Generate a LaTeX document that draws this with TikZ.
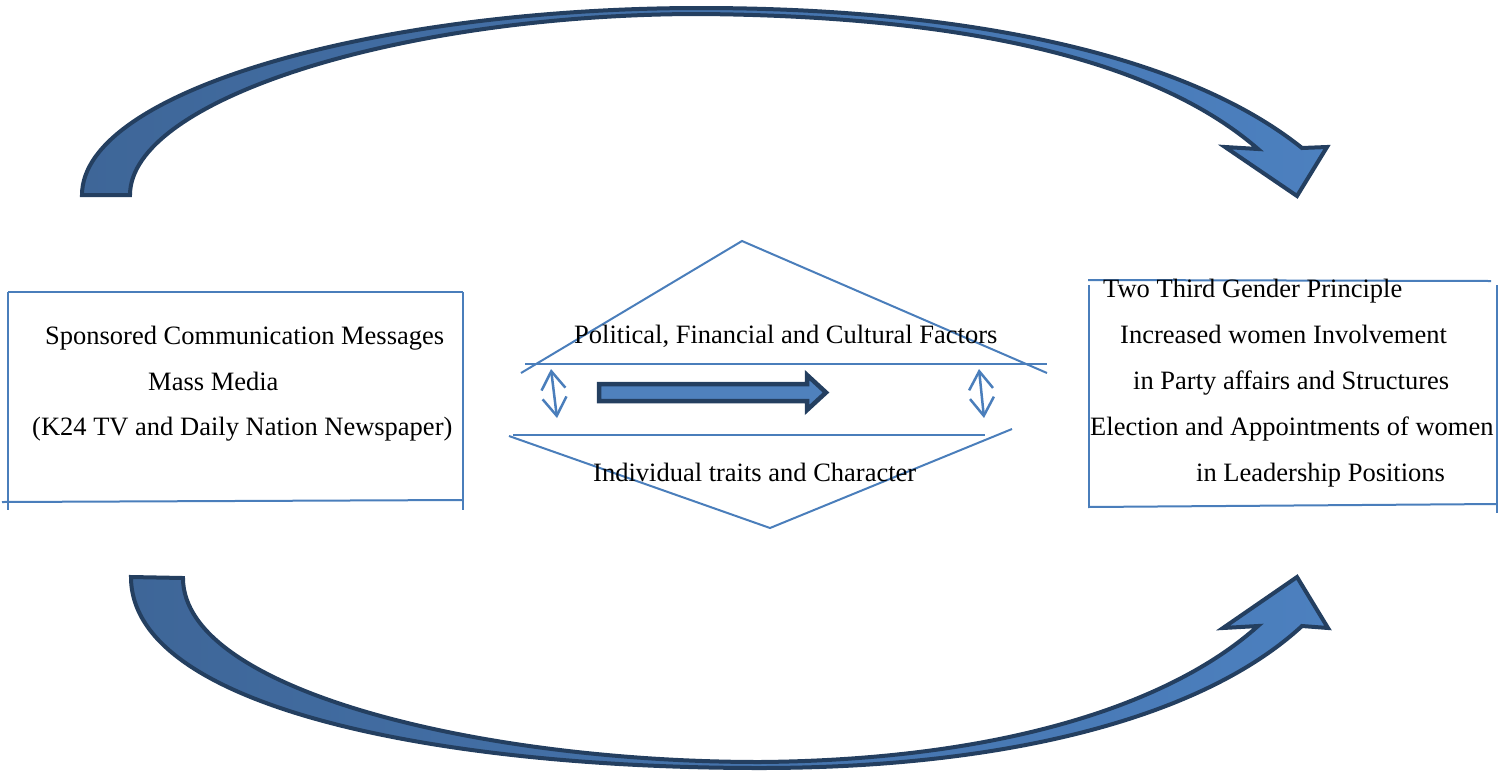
\documentclass[tikz,border=0pt]{standalone}
\usepackage{fontspec}
\setmainfont{Liberation Serif}
\usetikzlibrary{arrows.meta}
\definecolor{lineblue}{HTML}{4A7EBB}
\definecolor{darkedge}{HTML}{243F60}
\definecolor{fillA}{HTML}{3E6698}
\definecolor{fillB}{HTML}{4C80BF}
\definecolor{fillC}{HTML}{4F81BD}
\tikzset{
  txt/.style={anchor=base west, inner sep=0pt, font=\fontsize{26.5}{32}\selectfont, text=black},
  thinline/.style={draw=lineblue, line width=2pt},
  bigarrow/.style={draw=darkedge, line width=4pt, line join=miter, miter limit=4, left color=fillA, right color=fillB},
  blockarr/.style={draw=darkedge, line width=4.5pt, line join=miter, fill=fillC},
  dblarrow/.style={draw=lineblue, line width=2.5pt, {Straight Barb[length=18pt,width=24pt]}-{Straight Barb[length=18pt,width=24pt]}}
}
\begin{document}
\begin{tikzpicture}[x=1pt,y=-1pt]
\useasboundingbox (0,0) rectangle (1507,772);

% ---------- big curved arrows ----------
\path[bigarrow] (82,195) .. controls (82,90) and (380,8) .. (700,8)
  .. controls (950,8) and (1180,50) .. (1302,148)
  -- (1327,147) -- (1297,196) -- (1225,147) -- (1258,149)
  .. controls (1150,55) and (950,16) .. (700,14)
  .. controls (400,14) and (130,100) .. (130,195) -- cycle;

\path[bigarrow] (131,577) .. controls (131,708) and (440,768) .. (760,768)
  .. controls (1000,768) and (1200,720) .. (1302,626)
  -- (1328,628) -- (1297,577) -- (1223,628) -- (1258,626)
  .. controls (1170,705) and (1000,760) .. (760,762)
  .. controls (480,762) and (183,690) .. (183,578) -- cycle;

% ---------- left box ----------
\coordinate (L1) at (8,292);
\coordinate (L2) at (463,292);
\coordinate (L3) at (8,510);
\coordinate (L4) at (463,510);
\coordinate (L5) at (2,502);
\coordinate (L6) at (463,500);
\draw[thinline] (L1) -- (L2);
\draw[thinline] (L1) -- (L3);
\draw[thinline] (L2) -- (L4);
\draw[thinline] (L5) -- (L6);
\node[txt] (s1) at (45,344) {Sponsored Communication Messages};
\node[txt] (s2) at (148,390) {Mass Media};
\node[txt] (s3) at (32,435) {(K24 TV and Daily Nation Newspaper)};

% ---------- right box ----------
\coordinate (R1) at (1088,280);
\coordinate (R2) at (1491,281);
\coordinate (R3) at (1089,285);
\coordinate (R4) at (1089,508);
\coordinate (R5) at (1497,285);
\coordinate (R6) at (1497,513);
\coordinate (R7) at (1088,507);
\coordinate (R8) at (1497,504);
\draw[thinline] (R1) -- (R2);
\draw[thinline] (R3) -- (R4);
\draw[thinline] (R5) -- (R6);
\draw[thinline] (R7) -- (R8);
\node[txt] (r1) at (1103,297) {Two Third Gender Principle};
\node[txt] (r2) at (1120,343) {Increased women Involvement};
\node[txt] (r3) at (1133,389) {in Party affairs and Structures};
\node[txt] (r4) at (1090,435) {Election and Appointments of women};
\node[txt] (r5) at (1196,481) {in Leadership Positions};

% ---------- centre ----------
\coordinate (UA) at (742,241);
\coordinate (UL) at (521,373);
\coordinate (UR) at (1047,373);
\draw[thinline] (UL) -- (UA) -- (UR);
\coordinate (H1a) at (525,364);
\coordinate (H1b) at (1047,364);
\draw[thinline] (H1a) -- (H1b);
\coordinate (H2a) at (513,435);
\coordinate (H2b) at (985,435);
\draw[thinline] (H2a) -- (H2b);
\coordinate (LL) at (509,436);
\coordinate (LA) at (770,528);
\coordinate (LR) at (1012,429);
\draw[thinline] (LL) -- (LA) -- (LR);

\node[txt] (f1) at (574,343) {Political, Financial and Cultural Factors};
\node[txt] (f2) at (593,481) {Individual traits and Character};

\coordinate (D1a) at (551,369);
\coordinate (D1b) at (557,418);
\draw[dblarrow] (D1a) -- (D1b);
\coordinate (D2a) at (979,369);
\coordinate (D2b) at (984,418);
\draw[dblarrow] (D2a) -- (D2b);

\path[blockarr] (599,384) -- (807,384) -- (807,375) -- (826,392.5) -- (807,410) -- (807,401) -- (599,401) -- cycle;
\end{tikzpicture}
\end{document}
